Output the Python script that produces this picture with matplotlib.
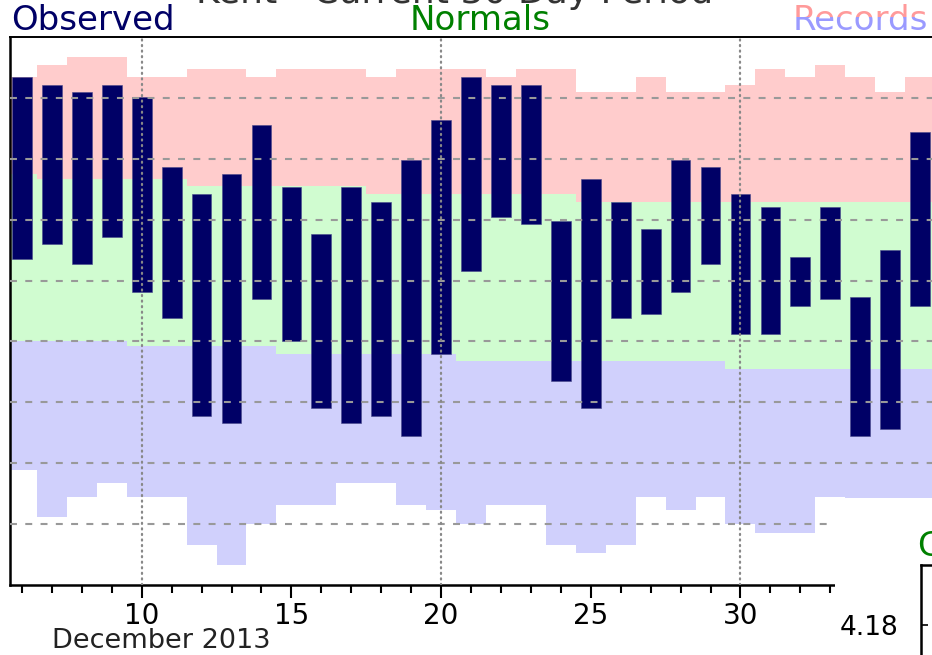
import matplotlib
matplotlib.use("Agg")
import matplotlib.pyplot as plt
from matplotlib.patches import Rectangle

plt.rcParams["font.family"] = ["DejaVu Sans"]
plt.rcParams["lines.scale_dashes"] = False

# day of month (runs past 31 into January)
days = list(range(6, 37))

obs_hi = [63.4, 62.1, 60.9, 62.1, 60.1, 48.6, 44.2, 47.5, 55.6, 45.4, 37.6,
          45.4, 42.9, 49.8, 56.4, 63.4, 62.1, 62.1, 39.7, 46.6, 42.9, 38.4,
          49.8, 48.6, 44.2, 42.1, 33.9, 42.1, 27.3, 35.1, 54.4]
obs_lo = [33.5, 36.0, 32.7, 37.2, 28.2, 23.8, 7.8, 6.6, 27.0, 20.0, 9.0,
          6.6, 7.8, 4.5, 18.0, 31.5, 40.5, 39.3, 13.5, 9.0, 23.8, 24.5,
          28.2, 32.7, 21.3, 21.3, 25.8, 27.0, 4.5, 5.7, 25.8]

rec_hi = [63.4, 65.4, 66.7, 66.7, 63.4, 63.4, 64.7, 64.7, 63.4, 64.7, 64.7,
          64.7, 63.4, 64.7, 64.7, 64.7, 63.4, 64.7, 64.7, 60.9, 60.9, 63.4,
          60.9, 60.9, 62.1, 64.7, 63.4, 65.4, 63.4, 60.9, 63.4]
norm_hi = [47.5, 46.6, 46.6, 46.6, 46.6, 46.6, 45.5, 45.5, 45.5, 45.5, 45.5,
           45.5, 44.2, 44.2, 44.2, 44.2, 44.2, 44.2, 44.2, 42.9, 42.9, 42.9,
           42.9, 42.9, 42.9, 42.9, 42.9, 42.9, 42.9, 42.9, 42.9]
norm_lo = [20.0, 20.0, 20.0, 20.0, 19.2, 19.2, 19.2, 19.2, 19.2, 18.0, 18.0,
           18.0, 18.0, 18.0, 18.0, 16.8, 16.8, 16.8, 16.8, 16.8, 16.8, 16.8,
           16.8, 16.8, 15.5, 15.5, 15.5, 15.5, 15.5, 15.5, 15.5]
rec_lo = [-1.1, -8.9, -5.6, -3.3, -5.6, -5.6, -13.4, -16.7, -10.0, -6.9, -6.9,
          -3.3, -3.3, -6.9, -7.7, -10.0, -6.9, -6.9, -13.4, -14.7, -13.4, -5.6,
          -7.7, -5.6, -10.0, -11.4, -11.4, -5.6, -8.0, -6.0, -9.0]

major_days = [10, 15, 20, 25, 30]
grid_temps = [-10, 0, 10, 20, 30, 40, 50, 60]
precip_total = "4.18"

W, H = 932, 655
fig = plt.figure(figsize=(W / 100, H / 100), dpi=100)


def fx(px):
    return px / W


def fy(py):
    return 1 - py / H


def steps(vals):
    # one flat step per day, centred on the day
    return vals + vals[-1:]


edges = [d - 0.5 for d in days] + [days[-1] + 0.5]

# main temperature panel; right edge runs off the canvas
ax = fig.add_axes([fx(10), fy(585), fx(950 - 10), (585 - 37) / H])
ax.set_xlim(5.6, 37)
ax.set_ylim(-20, 70)

ax.fill_between(edges, steps(norm_hi), steps(rec_hi), step="post",
                color="#ffcccc", lw=0, zorder=1)
ax.fill_between(edges, steps(norm_lo), steps(norm_hi), step="post",
                color="#d0fcd0", lw=0, zorder=1)
ax.fill_between(edges, steps(rec_lo), steps(norm_lo), step="post",
                color="#d0d0fc", lw=0, zorder=1)

spans = [h - l for h, l in zip(obs_hi, obs_lo)]
ax.bar(days, spans, bottom=obs_lo, width=0.66, color="#000066",
       edgecolor="#4a4a8a", linewidth=0.4, zorder=2)

for t in grid_temps:
    ax.axhline(t, color="#999999", lw=1.5, ls=(0, (5, 6)), zorder=3)
for d in (10, 20, 30):
    ax.axvline(d, color="#888888", lw=1.6, ls=(0, (0.8, 3.2)),
               dash_capstyle="round", zorder=3)

ax.set_xticks(major_days)
ax.set_xticklabels([str(d) for d in major_days], fontsize=20)
ax.set_xticks(days, minor=True)
ax.tick_params(axis="x", which="major", length=9, width=1.5, pad=3)
ax.tick_params(axis="x", which="minor", length=6, width=1.5)
ax.set_yticks([])
for side in ("left", "bottom"):
    ax.spines[side].set_linewidth(1.8)
ax.spines["top"].set_linewidth(1.4)
ax.spines["right"].set_visible(False)

fig.text(fx(52), fy(648), "December 2013", fontsize=19.5, color="#222222",
         va="baseline", ha="left")

# header row
fig.text(fx(455), fy(3), "Kent - Current 30 Day Period", fontsize=26,
         color="#333333", ha="center", va="baseline")
fig.text(fx(11), fy(30), "Observed", fontsize=24.5, color="#000066",
         ha="left", va="baseline")
fig.text(fx(480), fy(30), "Normals", fontsize=24.5, color="#008000",
         ha="center", va="baseline")

# "Records" is split: pink upper half, lavender lower half
split = fy(17)
for colr, lo_y, hi_y in (("#ff9a9a", split, 1.0), ("#9a9aff", 0.0, split)):
    t = fig.text(fx(928), fy(30), "Records", fontsize=24.5, color=colr,
                 ha="right", va="baseline")
    clip = Rectangle((0, lo_y), 1, hi_y - lo_y, transform=fig.transFigure)
    t.set_clip_path(clip)

# precipitation panel overlapping the lower right corner
fig.patches.append(Rectangle((fx(835), 0), 1, fy(498), transform=fig.transFigure,
                             facecolor="white", edgecolor="none", zorder=5))
fig.text(fx(918), fy(556), "Cumulative Precipitation", fontsize=24,
         color="#008000", ha="left", va="baseline", zorder=6)

pax = fig.add_axes([fx(921), fy(700), fx(200), (700 - 565) / H], zorder=6)
pax.set_xlim(0, 1)
pax.set_ylim(0, 8)
pax.set_xticks([])
pax.set_yticks([(700 - 625) / (700 - 565) * 8])
pax.set_yticklabels([precip_total], fontsize=19)
pax.tick_params(axis="y", direction="in", length=5, width=1.2, pad=16)
for side in ("left", "top"):
    pax.spines[side].set_linewidth(1.8)

fig.savefig("out.png", dpi=100)
